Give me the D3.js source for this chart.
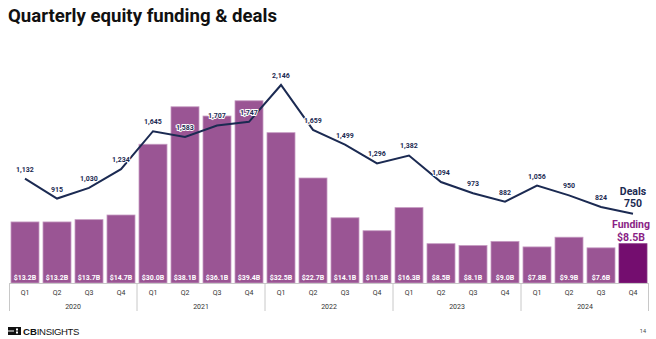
<!DOCTYPE html>
<html>
<head>
<meta charset="utf-8">
<script src="https://cdn.jsdelivr.net/npm/d3@7"></script>
<style>
  body { margin: 0; background: #fff; }
  svg { display: block; font-family: Roboto, "Liberation Sans", sans-serif; }
</style>
</head>
<body>
<div id="chart"></div>
<script>
const years = ["2020", "2021", "2022", "2023", "2024"];
const quarters = ["Q1", "Q2", "Q3", "Q4"];
const funding = [13.2, 13.2, 13.7, 14.7, 30.0, 38.1, 36.1, 39.4, 32.5, 22.7, 14.1, 11.3, 16.3, 8.5, 8.1, 9.0, 7.8, 9.9, 7.6, 8.5];
const deals = [1132, 915, 1030, 1234, 1645, 1583, 1707, 1747, 2146, 1659, 1499, 1296, 1382, 1094, 973, 882, 1056, 950, 824, 750];

const width = 656, height = 339;
const baseY = 283;

const keys = [];
years.forEach(y => quarters.forEach(q => keys.push(y + "-" + q)));
const data = keys.map((k, i) => ({ key: k, year: k.split("-")[0], q: k.split("-")[1], funding: funding[i], deals: deals[i] }));

const svg = d3.select("#chart").append("svg")
    .attr("width", width)
    .attr("height", height);

// title
svg.append("text")
    .attr("x", 8).attr("y", 22)
    .attr("font-size", 18.6).attr("font-weight", 700)
    .attr("fill", "#111")
    .text("Quarterly equity funding & deals");

const x = d3.scaleBand().domain(keys).range([9, 649]).paddingInner(0.125).paddingOuter(0.0625);
const yF = d3.scaleLinear().domain([0, 40]).range([baseY, 98]);
const yD = d3.scaleLinear().domain([0, 2200]).range([baseY, 80]);

// bars
svg.append("g")
  .selectAll("rect")
  .data(data)
  .enter()
  .append("rect")
    .attr("x", d => x(d.key))
    .attr("y", d => yF(d.funding))
    .attr("width", x.bandwidth())
    .attr("height", d => baseY - yF(d.funding))
    .attr("fill", (d, i) => i === data.length - 1 ? "#740d6f" : "#9a5594")
    .attr("stroke", (d, i) => i === data.length - 1 ? "#8a3a86" : "#c59ac1")
    .attr("stroke-width", 0.8);

// funding labels (last quarter is labelled beside the chart instead)
svg.append("g")
  .selectAll("text")
  .data(data.slice(0, data.length - 1))
  .enter()
  .append("text")
    .attr("x", d => x(d.key) + x.bandwidth() / 2)
    .attr("y", 280)
    .attr("text-anchor", "middle")
    .attr("font-size", 7)
    .attr("font-weight", 700)
    .attr("fill", "#fff")
    .text(d => "$" + d.funding.toFixed(1) + "B");

// axis
const axis = svg.append("g");
axis.append("line")
    .attr("x1", 9).attr("x2", 649)
    .attr("y1", baseY + 0.5).attr("y2", baseY + 0.5)
    .attr("stroke", "#c8c8c8");
const bounds = [0].concat(years.map((y, i) => (i + 1) * 4));
axis.selectAll(".sep")
  .data(bounds)
  .enter()
  .append("line")
    .attr("class", "sep")
    .attr("x1", i => i === 0 ? 9.5 : (i === 20 ? 648.5 : x(keys[i]) - x.step() * x.paddingInner() / 2))
    .attr("x2", i => i === 0 ? 9.5 : (i === 20 ? 648.5 : x(keys[i]) - x.step() * x.paddingInner() / 2))
    .attr("y1", baseY).attr("y2", 311)
    .attr("stroke", "#c8c8c8");
axis.selectAll(".q")
  .data(data)
  .enter()
  .append("text")
    .attr("x", d => x(d.key) + x.bandwidth() / 2)
    .attr("y", 295)
    .attr("text-anchor", "middle")
    .attr("font-size", 7)
    .attr("fill", "#333")
    .text(d => d.q);
axis.selectAll(".yr")
  .data(years)
  .enter()
  .append("text")
    .attr("x", (y, i) => (x(keys[i * 4]) + x(keys[i * 4 + 3]) + x.bandwidth()) / 2)
    .attr("y", 309)
    .attr("text-anchor", "middle")
    .attr("font-size", 7)
    .attr("fill", "#333")
    .text(y => y);

// deals line
const line = d3.line()
    .x(d => x(d.key) + x.bandwidth() / 2)
    .y(d => yD(d.deals));
svg.append("path")
    .datum(data)
    .attr("d", line)
    .attr("fill", "none")
    .attr("stroke", "#1b2a52")
    .attr("stroke-width", 2)
    .attr("stroke-linejoin", "miter");

svg.append("g")
  .selectAll("text")
  .data(data.slice(0, data.length - 1))
  .enter()
  .append("text")
    .attr("x", d => x(d.key) + x.bandwidth() / 2)
    .attr("y", d => yD(d.deals) - 7)
    .attr("text-anchor", "middle")
    .attr("font-size", 7)
    .attr("font-weight", 700)
    .attr("fill", "#1b2a52")
    .attr("stroke", "#fff")
    .attr("stroke-width", 1.8)
    .attr("paint-order", "stroke")
    .text(d => d3.format(",")(d.deals));

// end labels
const last = data[data.length - 1];
const lx = x(last.key) + x.bandwidth() / 2;
svg.append("text").attr("x", lx).attr("y", 195)
    .attr("text-anchor", "middle").attr("font-size", 10.5).attr("font-weight", 700)
    .attr("fill", "#1b2a52").text("Deals");
svg.append("text").attr("x", lx).attr("y", 207)
    .attr("text-anchor", "middle").attr("font-size", 10.5).attr("font-weight", 700)
    .attr("fill", "#1b2a52").text(d3.format(",")(last.deals));
svg.append("text").attr("x", lx - 2).attr("y", 228)
    .attr("text-anchor", "middle").attr("font-size", 10.5).attr("font-weight", 700)
    .attr("fill", "#8a1f86").text("Funding");
svg.append("text").attr("x", lx - 2).attr("y", 241)
    .attr("text-anchor", "middle").attr("font-size", 10.5).attr("font-weight", 700)
    .attr("fill", "#8a1f86").text("$" + last.funding.toFixed(1) + "B");

// footer
const logo = svg.append("g").attr("transform", "translate(8,327)");
logo.append("rect").attr("x", 0).attr("y", 0).attr("width", 13).attr("height", 8).attr("fill", "#111");
logo.append("rect").attr("x", 8).attr("y", 1.5).attr("width", 2).attr("height", 2).attr("fill", "#fff");
logo.append("rect").attr("x", 8).attr("y", 4.5).attr("width", 2).attr("height", 2).attr("fill", "#fff");
logo.append("rect").attr("x", 0).attr("y", 3.5).attr("width", 6).attr("height", 1).attr("fill", "#fff");
const lt = logo.append("text").attr("x", 15).attr("y", 8).attr("font-size", 9.6)
    .attr("font-family", "'Liberation Sans', Arial, sans-serif").attr("fill", "#111");
lt.append("tspan").attr("font-weight", 700).text("CB");
lt.append("tspan").attr("font-weight", 400).attr("letter-spacing", -0.4).text("INSIGHTS");

svg.append("text").attr("x", 646).attr("y", 333)
    .attr("text-anchor", "end").attr("font-size", 5.5).attr("fill", "#444").text("14");
</script>
</body>
</html>
